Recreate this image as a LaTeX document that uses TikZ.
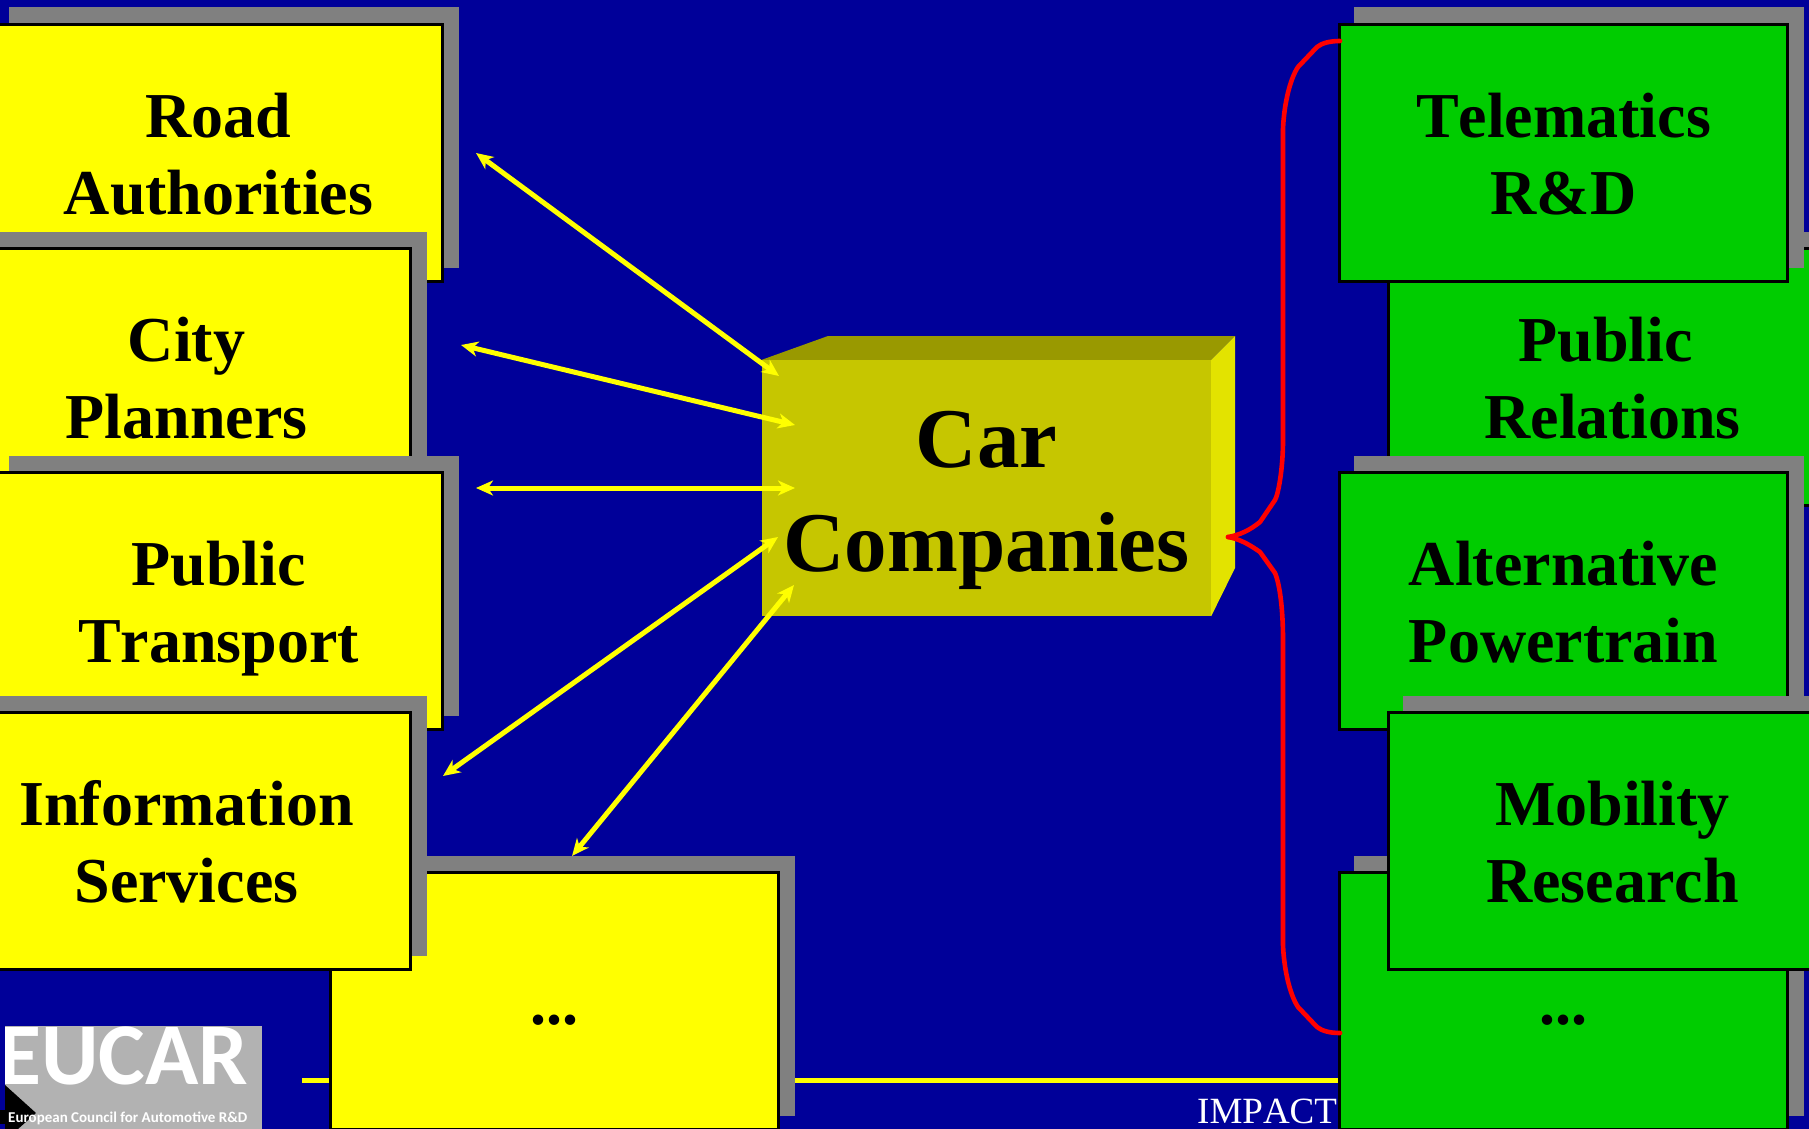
\documentclass[tikz,border=0pt]{standalone}
\usepackage{fontspec}
\setmainfont[Kerning=Off]{Liberation Serif}
\newfontfamily\logofont{Carlito}
\usetikzlibrary{arrows.meta,shadows}

\definecolor{slideblue}{RGB}{0,0,153}
\definecolor{boxgray}{RGB}{128,128,128}
\definecolor{boxyellow}{RGB}{255,255,0}
\definecolor{boxgreen}{RGB}{0,204,0}
\definecolor{carfront}{RGB}{198,198,0}
\definecolor{cartop}{RGB}{153,153,0}
\definecolor{carside}{RGB}{227,227,0}
\definecolor{logogray}{RGB}{178,178,178}

\tikzset{
    actor/.style={draw, black, line width=3pt, minimum height=257pt, minimum width=447.5pt, align=center, inner sep=0pt,
        text height=137pt, text depth=15pt,
        font=\fontsize{64}{77}\selectfont\bfseries,
        general shadow={shadow xshift=15.5pt, shadow yshift=15.5pt, fill=boxgray, draw=boxgray}},
    yellowbox/.style={actor, fill=boxyellow},
    greenbox/.style={actor, fill=boxgreen},
    dotline/.style={text height=60pt, text depth=13pt},
    link/.style={draw=boxyellow, line width=5pt, {Stealth[length=17pt,width=15pt,inset=5pt]}-{Stealth[length=17pt,width=15pt,inset=5pt]}},
    brace/.style={draw=red, line width=4.6pt, line cap=round, line join=round}
}

\begin{document}
\begin{tikzpicture}[x=1pt, y=-1pt]

    \useasboundingbox (0,0) rectangle (1809,1129);
    \fill[slideblue] (0,0) rectangle (1809,1129);

    % footer line and logo
    \coordinate (footL) at (302,1080);
    \coordinate (footR) at (1340,1080);
    \draw[boxyellow, line width=5pt] (footL) -- (footR);
    \node[anchor=base west, inner sep=0pt, white, font=\fontsize{37}{44}\selectfont] at (1197,1123) (impact) {IMPACT};

    \node[fill=logogray, anchor=north west, minimum width=257pt, minimum height=103pt, inner sep=0pt] at (5,1026) (logo) {};
    \begin{scope}
        \clip (logo.north west) rectangle (logo.south east);
        \node[anchor=base west, inner sep=0pt, white, font=\logofont\bfseries\fontsize{88}{88}\selectfont] at (-2,1084) (eucar) {EUCAR};
    \end{scope}
    \fill[black] (5,1085) -- (36,1113) -- (18,1129) -- (5,1129) -- cycle;
    \fill[black] (0,1110) rectangle (12,1124);
    \node[anchor=base west, inner sep=0pt, white, font=\logofont\bfseries\fontsize{15}{18}\selectfont] at (8,1122) (council) {European Council for Automotive R\&D};

    % left side
    \node[yellowbox] at (218.5,153) (road) {Road\\Authorities};
    \node[yellowbox] at (186.5,377) (city) {City\\Planners};
    \node[yellowbox] at (218.5,601) (transport) {Public\\Transport};
    \node[yellowbox, dotline] at (554.5,1001) (dotsL) {...};
    \node[yellowbox] at (186.5,841) (info) {Information\\Services};

    % right side
    \node[greenbox] at (1612.5,377) (relations) {Public\hspace*{14pt}\\Relations};
    \node[greenbox] at (1563.5,153) (telematics) {Telematics\\R\&D};
    \node[greenbox] at (1563.5,601) (powertrain) {Alternative\\Powertrain};
    \node[greenbox, dotline] at (1563.5,1001) (dotsR) {...};
    \node[greenbox] at (1612.5,841) (mobility) {Mobility\\Research};

    % car box
    \node[fill=carfront, minimum width=449pt, minimum height=256pt, align=center, inner sep=0pt, text height=186pt, text depth=20pt, font=\fontsize{85}{104}\selectfont\bfseries] at (986.5,488) (car) {Car\\Companies};
    \fill[cartop] (car.north west) -- (828,336) -- (1235,336) -- (car.north east) -- cycle;
    \fill[carside] (car.north east) -- (1235,336) -- (1235,568) -- (car.south east) -- cycle;

    % arrows
    \coordinate (roadEnd) at (476,153);
    \coordinate (cityEnd) at (461,345);
    \coordinate (transportEnd) at (476,488);
    \coordinate (infoEnd) at (443,776);
    \coordinate (dotsEnd) at (572,856);
    \coordinate (carA) at (779,376);
    \coordinate (carB) at (795,425);
    \coordinate (carC) at (795,488);
    \coordinate (carD) at (778,537);
    \coordinate (carE) at (794,585);
    \draw[link] (roadEnd) -- (carA);
    \draw[link] (cityEnd) -- (carB);
    \draw[link] (transportEnd) -- (carC);
    \draw[link] (infoEnd) -- (carD);
    \draw[link] (dotsEnd) -- (carE);

    % red bracket
    \coordinate (tip) at (1228,537);
    \coordinate (teleIn) at (1340,41);
    \coordinate (dotsIn) at (1340,1033);
    \draw[brace] (teleIn) .. controls (1330,41) and (1322,43) .. (1317,47) -- (1298,67) .. controls (1290,79) and (1284,104) .. (1283,129) -- (1283,440) .. controls (1283,470) and (1278,495) .. (1275,500) -- (1260,522) .. controls (1250,530) and (1240,535) .. (tip);
    \draw[brace] (tip) .. controls (1240,539) and (1250,545) .. (1260,552) -- (1275,573) .. controls (1280,585) and (1283,610) .. (1283,640) -- (1283,945) .. controls (1284,970) and (1290,995) .. (1298,1007) -- (1317,1027) .. controls (1322,1031) and (1330,1033) .. (dotsIn);

\end{tikzpicture}
\end{document}
